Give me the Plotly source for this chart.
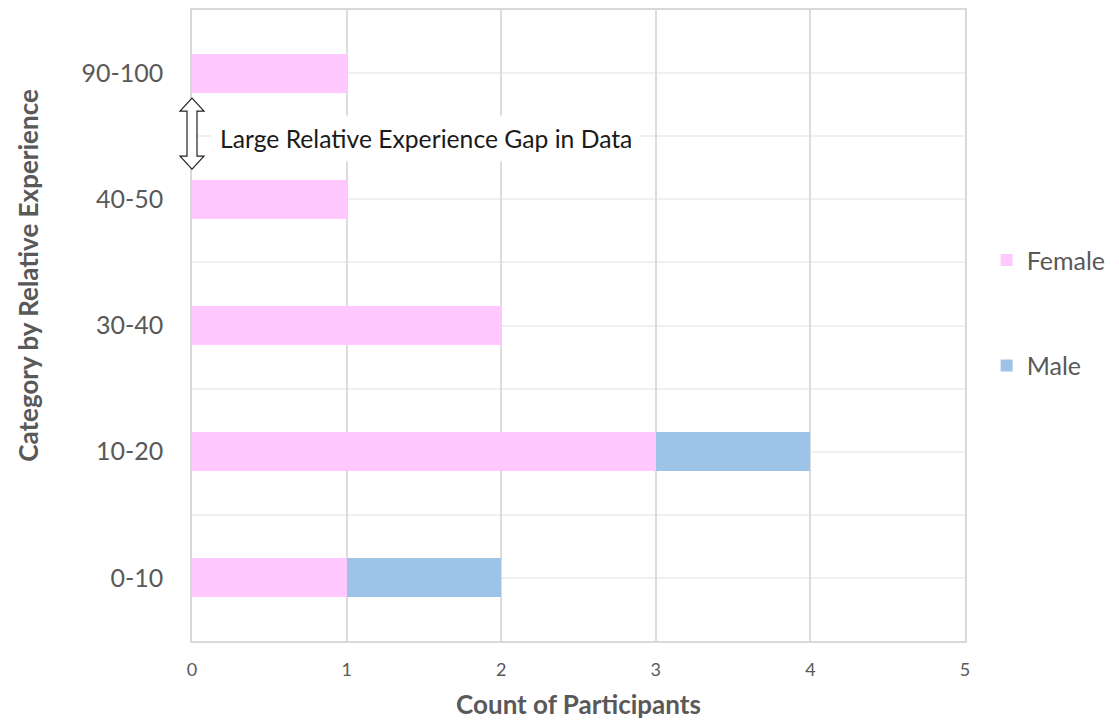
import plotly.graph_objects as go

# Participant counts by relative-experience band
categories = ["0-10", "10-20", "30-40", "40-50", "90-100"]
female = [1, 3, 2, 1, 1]
male = [1, 1, 0, 0, 0]
x_ticks = [0, 1, 2, 3, 4, 5]

positions = list(range(len(categories)))
half_steps = [p + d for p in positions for d in (-0.5, 0.0)] + [positions[-1] + 0.5]

FONT = "Lato, 'Open Sans', sans-serif"
TEXT_GREY = "#595959"

fig = go.Figure()
fig.add_trace(go.Bar(
    y=positions, x=female, orientation="h", name="Female",
    marker=dict(color="#FFC8FF", line=dict(width=0)), width=0.31,
    legendgroup="f",
))
fig.add_trace(go.Bar(
    y=positions, x=male, orientation="h", name="Male",
    marker=dict(color="#9DC3E6", line=dict(width=0)), width=0.31,
    legendgroup="m",
))

fig.update_layout(
    width=1119, height=724,
    margin=dict(l=192, r=149, t=8, b=83),
    barmode="stack",
    plot_bgcolor="white", paper_bgcolor="white",
    font=dict(family=FONT, color=TEXT_GREY),
    legend=dict(
        x=1.028, xanchor="left", y=0.64, yanchor="top",
        font=dict(size=25, color=TEXT_GREY),
        traceorder="grouped", tracegroupgap=70,
        itemwidth=30,
    ),
    xaxis=dict(
        range=[x_ticks[0], x_ticks[-1]], tickvals=x_ticks,
        showgrid=True, gridcolor="#DCDCDC", gridwidth=1.5,
        zeroline=False, showline=True, linecolor="#D9D9D9", linewidth=1.5,
        mirror=True,
        tickfont=dict(size=18, color=TEXT_GREY), ticklabelstandoff=12,
        title=dict(text="<b>Count of Participants</b>",
                   font=dict(size=26, color=TEXT_GREY), standoff=16),
    ),
    yaxis=dict(
        range=[positions[0] - 0.5, positions[-1] + 0.5],
        tickvals=positions, ticktext=categories,
        showgrid=False, zeroline=False,
        showline=True, linecolor="#D9D9D9", linewidth=1.5, mirror=True,
        tickfont=dict(size=25, color=TEXT_GREY), ticklabelstandoff=22,
        minor=dict(tickvals=half_steps, showgrid=True,
                   gridcolor="#F0F0F0", gridwidth=1.5),
    ),
)

# Y-axis title placed as a rotated annotation
fig.add_annotation(
    text="<b>Category by Relative Experience</b>",
    xref="paper", yref="paper", x=-0.212, y=0.579,
    xanchor="center", yanchor="middle", textangle=-90, showarrow=False,
    font=dict(size=26, color=TEXT_GREY, family=FONT),
)

# Double-headed outline arrow marking the gap between bands
gap_y = (positions[3] + positions[4]) / 2
gap_paper = (gap_y - (positions[0] - 0.5)) / (len(categories))
fig.add_shape(
    type="path", xref="paper", yref="paper",
    xsizemode="pixel", ysizemode="pixel", xanchor=0, yanchor=gap_paper,
    path="M 0,38 L 12,25 L 5,25 L 5,-20 L 12,-20 L 0,-33 L -12,-20 "
         "L -5,-20 L -5,25 L -12,25 Z",
    fillcolor="white", line=dict(color="#222222", width=1.2), layer="above",
)
fig.add_annotation(
    text="Large Relative Experience Gap in Data",
    xref="paper", yref="paper", x=0.024, y=gap_paper - 0.004,
    xanchor="left", yanchor="middle", showarrow=False,
    bgcolor="white", borderpad=8,
    font=dict(size=24.7, color="#1A1A1A", family=FONT),
)

fig.write_html("out.html")
